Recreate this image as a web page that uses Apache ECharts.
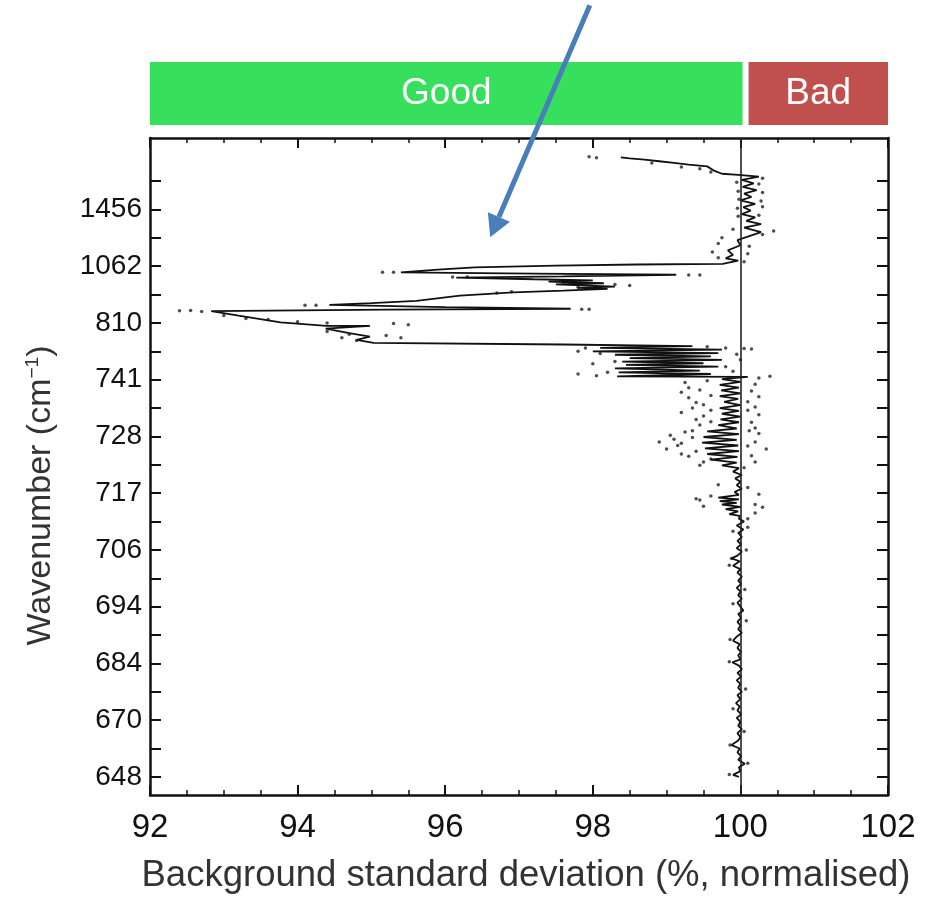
<!DOCTYPE html>
<html>
<head>
<meta charset="utf-8">
<script src="https://cdn.jsdelivr.net/npm/echarts@6/dist/echarts.min.js"></script>
<style>
  html, body { margin: 0; background: #fff; }
  #chart { width: 941px; height: 899px; }
</style>
</head>
<body>
<div id="chart"></div>
<script>
// y axis runs in channel steps: ten steps between two wavenumber labels
const labelPos = [0, 10, 20, 30, 40, 50, 60, 70, 80, 90, 100]
const labelText = ['648', '670', '684', '694', '706', '717', '728', '741', '810', '1062', '1456']
const tickPos = [0, 5, 10, 15, 20, 25, 30, 35, 40, 45, 50, 55, 60, 65, 70, 75, 80, 85, 90, 95, 100, 105]

// mean curve, [std dev %, channel step]
const meanLine = [
  [98.38, 109.2], [98.5, 109.0], [98.7, 108.8], [98.9, 108.5], [99.1, 108.2], [99.3, 107.9], [99.55, 107.6],
  [99.65, 106.8], [99.75, 106.3], [99.97, 106.1], [100.25, 105.8],
  [100.02, 105.2], [100.18, 104.6], [100.03, 104.0], [100.22, 103.4], [100.05, 102.8], [100.15, 102.2],
  [100.0, 101.6], [100.2, 101.0], [100.04, 100.4], [100.14, 99.8], [100.02, 99.2], [100.2, 98.6],
  [100.08, 98.0], [100.28, 97.4], [100.05, 96.8], [100.28, 96.0], [99.96, 94.6], [100.0, 93.7],
  [99.83, 92.8], [99.9, 92.0], [99.8, 91.4], [99.97, 91.0], [99.76, 90.4],
  [98.6, 90.3], [97.5, 90.1], [96.4, 89.8], [95.9, 89.4], [95.4, 88.9],
  [97.2, 88.7], [99.13, 88.5], [97.6, 88.2], [96.15, 88.0],
  [97.2, 87.7], [98.0, 87.5], [97.4, 87.3], [98.15, 87.0], [97.5, 86.8], [98.3, 86.4], [97.8, 86.2], [98.2, 86.0],
  [97.6, 85.7], [96.92, 85.4], [96.2, 84.8], [95.61, 83.9], [95.0, 83.5], [94.43, 83.2],
  [96.0, 82.8], [97.7, 82.5], [95.2, 82.35], [92.83, 82.1],
  [93.2, 81.3], [93.77, 80.1], [94.39, 79.5], [94.98, 79.5], [94.38, 79.0], [94.7, 78.2],
  [94.98, 77.6], [94.8, 77.0], [95.03, 76.5],
  [97.6, 76.2], [99.35, 75.9], [98.1, 75.6], [99.75, 75.3], [98.0, 75.0], [99.7, 74.7], [98.3, 74.4],
  [99.6, 74.1], [98.5, 73.8], [99.75, 73.5], [98.4, 73.2], [99.5, 72.9], [98.45, 72.6], [99.7, 72.3],
  [98.3, 72.0], [99.45, 71.6], [98.35, 71.3], [99.6, 71.0], [98.33, 70.6], [100.1, 70.5],
  [99.75, 70.1], [100.0, 69.6], [99.72, 69.1], [99.98, 68.6], [99.74, 68.1], [100.0, 67.6], [99.72, 67.1],
  [99.97, 66.6], [99.78, 66.1], [100.0, 65.5], [99.72, 65.0], [99.98, 64.5], [99.75, 64.0], [100.0, 63.5],
  [99.73, 63.0], [99.98, 62.5], [99.7, 62.0], [99.95, 61.4],
  [99.55, 60.9], [99.98, 60.4], [99.5, 59.9], [99.95, 59.4], [99.48, 58.9], [99.97, 58.4], [99.52, 57.9],
  [99.98, 57.4], [99.55, 56.9], [99.96, 56.4], [99.6, 55.9], [99.95, 55.4], [99.75, 54.9], [99.98, 54.4],
  [99.9, 53.8], [100.02, 53.2], [99.93, 52.6], [100.0, 52.0], [99.95, 51.4], [100.02, 50.8], [99.92, 50.2],
  [99.98, 49.7], [99.7, 49.2], [99.98, 48.9], [99.72, 48.6], [99.95, 48.3], [99.75, 48.0], [100.0, 47.6],
  [99.8, 47.2], [99.97, 46.8], [99.85, 46.3], [99.99, 46.0],
  [99.98, 45.5], [100.05, 45.0], [99.95, 44.3], [100.04, 43.6], [99.97, 43.0], [100.02, 42.3], [99.96, 41.6],
  [100.01, 41.0], [99.95, 40.3], [100.02, 39.7], [99.96, 39.0], [99.88, 38.5], [99.99, 38.0], [99.9, 37.2],
  [100.0, 36.6], [99.96, 36.0], [100.02, 35.3], [99.97, 34.6], [100.01, 34.0], [99.95, 33.3], [100.0, 32.7],
  [99.97, 32.0], [100.02, 31.4], [99.96, 30.7], [100.0, 30.0], [100.04, 29.3], [99.97, 28.7], [100.01, 28.0],
  [99.96, 27.3], [100.0, 26.7], [99.97, 26.0], [100.02, 25.4], [99.95, 24.7], [99.9, 24.0], [99.99, 23.4],
  [99.96, 22.7], [100.01, 22.0], [99.97, 21.4], [100.0, 20.7], [99.89, 20.2], [99.98, 19.6], [100.02, 19.0],
  [99.96, 18.3], [100.01, 17.7], [99.95, 17.0], [100.0, 16.4], [99.97, 15.7], [100.02, 15.0], [99.96, 14.4],
  [100.0, 13.7], [99.94, 13.0], [99.99, 12.4], [99.96, 11.7], [100.01, 11.0], [99.95, 10.4], [100.0, 9.7],
  [99.97, 9.0], [100.02, 8.4], [99.96, 7.7], [100.0, 7.0], [99.97, 6.4], [99.88, 5.6], [99.99, 5.0],
  [99.96, 4.3], [100.01, 3.6], [99.97, 3.0], [100.06, 2.3], [99.98, 1.7], [100.0, 1.0], [99.9, 0.35], [99.98, 0.0]
]

// individual samples drawn as dots, [std dev %, channel step]
const sampleDots = [
  [97.95, 109.3], [98.05, 109.1], [98.8, 108.2], [99.2, 107.5], [99.6, 106.6], [99.45, 107.2],
  [100.3, 105.5], [100.25, 104.5], [100.3, 103.0], [100.28, 101.5], [100.3, 100.5], [100.25, 99.0],
  [100.45, 96.2], [100.3, 95.6], [99.95, 104.8], [99.97, 103.2], [99.98, 101.8], [99.96, 100.2],
  [99.97, 98.8], [99.9, 96.5], [99.75, 95.0], [99.7, 94.0], [99.62, 92.5], [99.7, 91.5],
  [100.12, 93.5], [100.1, 92.2], [100.05, 90.8],
  [95.15, 88.95], [95.3, 88.95], [96.1, 88.1], [96.3, 88.1], [99.3, 88.45], [99.45, 88.45],
  [97.6, 87.2], [98.3, 86.8], [98.5, 86.6], [96.7, 85.3], [96.9, 85.5], [97.8, 86.3],
  [94.1, 83.1], [94.25, 83.1], [97.85, 82.4], [97.95, 82.4], [92.4, 82.15], [92.55, 82.2], [92.7, 82.0],
  [93.0, 81.3], [93.3, 80.8], [93.6, 80.6], [94.0, 80.2], [94.4, 80.0], [95.3, 79.9], [95.5, 79.7],
  [94.4, 78.5], [94.7, 78.0], [95.2, 77.8], [95.4, 77.4], [94.6, 77.4], [94.8, 76.9],
  [97.9, 75.6], [97.8, 75.0], [98.1, 74.6], [98.3, 73.2], [98.0, 72.8], [98.2, 71.3], [97.8, 71.0],
  [98.05, 70.7], [99.55, 75.8], [99.8, 75.6], [100.05, 75.5], [100.15, 75.4], [99.95, 74.5],
  [100.0, 73.5], [99.8, 72.3], [99.9, 71.5], [100.4, 70.6], [100.25, 70.3],
  [99.25, 69.5], [99.3, 68.6], [99.2, 67.8], [99.3, 66.8], [99.4, 66.0], [99.35, 65.0], [99.2, 64.2],
  [99.4, 63.0], [99.45, 62.0], [99.35, 61.0], [99.05, 60.2], [99.1, 59.5], [98.9, 59.0], [99.15, 58.4],
  [99.0, 57.8], [99.3, 56.5], [99.5, 55.5],
  [99.55, 69.8], [99.45, 68.2], [99.6, 67.2], [99.5, 65.6], [99.6, 64.6], [99.5, 63.6], [99.6, 62.6],
  [99.25, 60.8], [99.35, 59.8], [99.2, 58.8], [99.4, 57.4], [99.2, 56.9], [99.6, 56.0], [99.45, 54.9],
  [100.2, 69.2], [100.15, 68.0], [100.25, 67.0], [100.1, 66.1], [100.2, 65.2], [100.25, 63.8],
  [100.15, 62.5], [100.2, 61.5], [100.25, 60.5], [100.2, 59.0], [100.35, 57.8], [100.15, 56.6],
  [100.2, 55.5], [100.05, 54.5], [100.1, 64.6], [100.12, 61.0], [100.1, 58.3],
  [99.4, 49.0], [99.45, 48.8], [99.6, 49.5], [99.5, 47.7], [100.25, 49.8], [100.2, 48.0], [100.3, 47.5],
  [100.2, 46.5], [100.1, 45.5], [99.7, 51.5], [100.1, 51.0],
  [100.1, 44.0], [99.9, 43.3], [100.08, 40.0], [99.88, 38.5], [99.85, 37.3], [100.06, 33.0], [99.9, 30.5],
  [100.08, 27.5], [99.86, 24.2], [99.85, 20.3], [100.07, 15.5], [99.9, 12.0], [100.05, 8.0], [99.86, 5.6],
  [100.1, 2.4], [99.85, 0.4]
]

const zoneNames = ['Good', 'Bad']
const zoneFrom = [92, 100.07]
const zoneTo = [100.07, 102]

const arrowFrom = [97.96, 136]
const arrowTo = [96.61, 95.1]

const zoneColors = ['#37e05c', '#c0504d']
const ink = '#111'
const font = 'Liberation Sans, Arial, Helvetica, sans-serif'

const chart = echarts.init(document.getElementById('chart'))

const frameLine = { show: true, onZero: false, lineStyle: { color: ink, width: 2.5 } }
const xTick = { inside: true, length: 10, lineStyle: { color: ink, width: 2 } }
const xMinor = { show: true, splitNumber: 4, length: 5, lineStyle: { color: ink, width: 1.5 } }
const yTick = { inside: true, length: 11, customValues: tickPos, lineStyle: { color: ink, width: 2 } }

chart.setOption({
  animation: false,
  backgroundColor: '#fff',
  grid: [
    { left: 150, right: 53, top: 138, bottom: 101 },
    { left: 150, right: 53, top: 62, height: 63 },
  ],
  xAxis: [
    {
      gridIndex: 0,
      type: 'value',
      position: 'bottom',
      min: 92,
      max: 102,
      interval: 2,
      axisLine: frameLine,
      splitLine: { show: false },
      axisTick: xTick,
      minorTick: xMinor,
      axisLabel: { color: ink, fontSize: 33, margin: 16, fontFamily: font },
      name: 'Background standard deviation (%, normalised)',
      nameLocation: 'middle',
      nameGap: 62,
      nameTextStyle: { color: '#333', fontSize: 36.5, fontFamily: font, padding: [0, 0, 0, 14] },
    },
    {
      gridIndex: 0,
      type: 'value',
      position: 'top',
      min: 92,
      max: 102,
      interval: 2,
      axisLine: frameLine,
      splitLine: { show: false },
      axisTick: xTick,
      minorTick: xMinor,
      axisLabel: { show: false },
    },
    { gridIndex: 1, type: 'value', min: 92, max: 102, show: false },
  ],
  yAxis: [
    {
      gridIndex: 0,
      type: 'value',
      position: 'left',
      min: -3.2,
      max: 112.6,
      axisLine: frameLine,
      splitLine: { show: false },
      axisTick: yTick,
      axisLabel: {
        customValues: labelPos,
        color: ink,
        fontSize: 28,
        margin: 8,
        fontFamily: font,
        formatter: (v) => labelText[labelPos.indexOf(Math.round(v))] || '',
      },
      name: 'Wavenumber (cm{sup|−1})',
      nameLocation: 'middle',
      nameGap: 92,
      nameTextStyle: {
        color: '#333',
        fontSize: 34,
        fontFamily: font,
        padding: [0, 58, 0, 0],
        rich: { sup: { fontSize: 19, fontFamily: font, color: '#333', padding: [0, 0, 16, 0] } },
      },
    },
    {
      gridIndex: 0,
      type: 'value',
      position: 'right',
      min: -3.2,
      max: 112.6,
      axisLine: frameLine,
      splitLine: { show: false },
      axisTick: yTick,
      axisLabel: { show: false },
    },
    { gridIndex: 1, type: 'value', min: 0, max: 1, show: false },
  ],
  series: [
    {
      name: 'mean',
      type: 'line',
      xAxisIndex: 0,
      yAxisIndex: 0,
      data: meanLine,
      showSymbol: false,
      lineStyle: { color: ink, width: 1.8 },
      markLine: {
        silent: true,
        symbol: 'none',
        label: { show: false },
        lineStyle: { color: '#222', width: 1.6, type: 'solid' },
        data: [{ xAxis: 100 }],
      },
    },
    {
      name: 'samples',
      type: 'scatter',
      xAxisIndex: 0,
      yAxisIndex: 0,
      data: sampleDots,
      symbolSize: 3.5,
      itemStyle: { color: '#222' },
    },
    {
      name: 'zones',
      type: 'custom',
      xAxisIndex: 2,
      yAxisIndex: 2,
      data: zoneNames.map((n, i) => [zoneFrom[i], zoneTo[i], i]),
      renderItem: (params, api) => {
        const i = api.value(2)
        const a = api.coord([api.value(0), 1])
        const b = api.coord([api.value(1), 0])
        const x0 = a[0] + (i > 0 ? 3 : 0)
        const x1 = b[0] - (i < zoneNames.length - 1 ? 3 : 0)
        return {
          type: 'rect',
          shape: { x: x0, y: a[1], width: x1 - x0, height: b[1] - a[1] },
          style: { fill: zoneColors[i] },
          textContent: {
            style: { text: zoneNames[i], fill: '#fff', fontSize: 37, fontFamily: font },
          },
          textConfig: { position: 'inside' },
        }
      },
    },
  ],
})

// annotation arrow, positioned from its data coordinates
const p0 = chart.convertToPixel({ xAxisIndex: 0, yAxisIndex: 0 }, arrowFrom)
const p1 = chart.convertToPixel({ xAxisIndex: 0, yAxisIndex: 0 }, arrowTo)
const dx = p1[0] - p0[0]
const dy = p1[1] - p0[1]
const len = Math.hypot(dx, dy)
const ux = dx / len
const uy = dy / len
const headLen = 22
const headHalf = 12
const base = [p1[0] - ux * headLen, p1[1] - uy * headLen]

chart.setOption({
  graphic: [
    {
      type: 'line',
      z: 100,
      shape: { x1: p0[0], y1: p0[1], x2: base[0], y2: base[1] },
      style: { stroke: '#4a7ebb', lineWidth: 5 },
    },
    {
      type: 'polygon',
      z: 100,
      shape: {
        points: [
          p1,
          [base[0] - uy * headHalf, base[1] + ux * headHalf],
          [base[0] + uy * headHalf, base[1] - ux * headHalf],
        ],
      },
      style: { fill: '#4a7ebb' },
    },
  ],
})
</script>
</body>
</html>
